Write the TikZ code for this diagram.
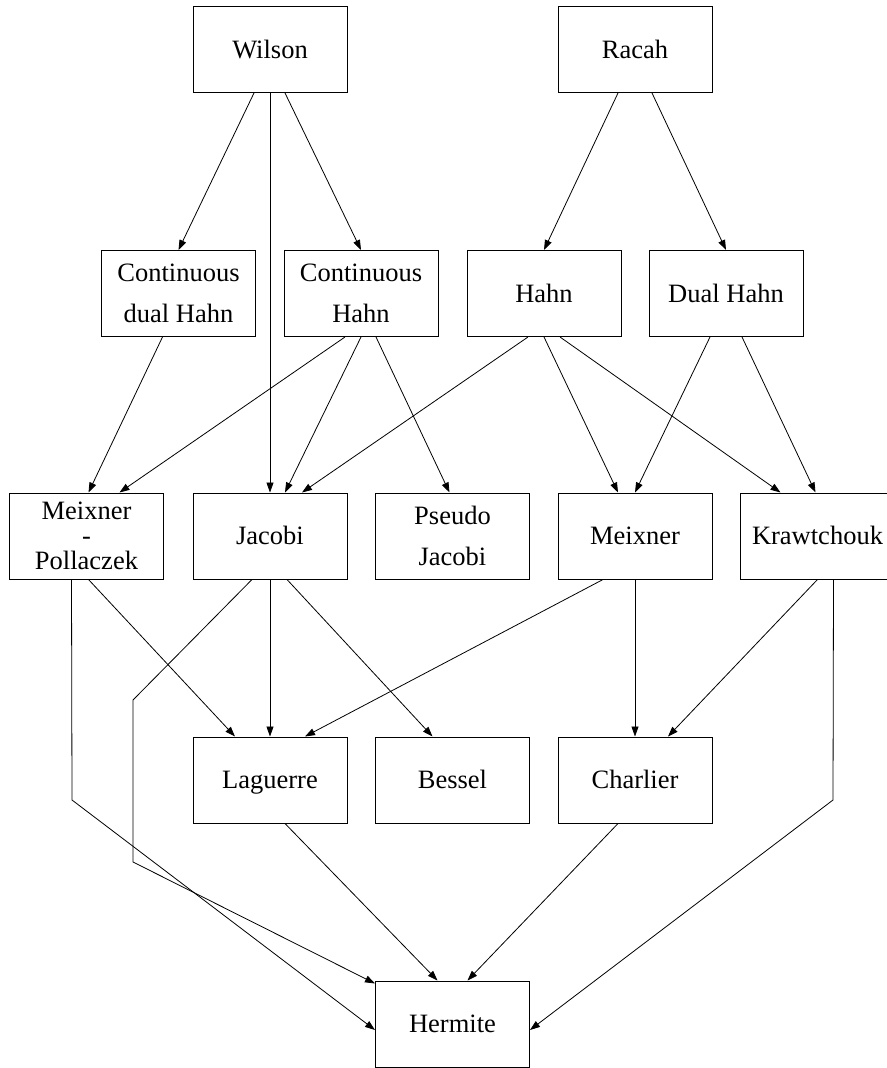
\documentclass[tikz,border=0pt]{standalone}
\usepackage{fontspec}
\setmainfont{Liberation Serif}
\usetikzlibrary{arrows.meta}
\tikzset{
    box/.style = {draw, line width=1pt, minimum width=154pt, minimum height=86pt,
        inner sep=0pt, align=center, font=\fontsize{26.5}{41}\selectfont},
    onebox/.style = {box, text height=17.5pt, text depth=0pt},
    link/.style = {draw, line width=0.8pt, -{Triangle[length=10pt,width=7pt]}}
}

\begin{document}
\begin{tikzpicture}[x=1pt,y=-1pt]
        \useasboundingbox (0,0) rectangle (886,1068);
        \node[onebox] (1) at (270,49.5) {Wilson};
        \node[onebox] (2) at (635,49.5) {Racah};
        \node[box] (3) at (178.5,293.5) {Continuous\\dual Hahn};
        \node[box] (4) at (361,293.5) {Continuous\\Hahn};
        \node[onebox] (5) at (544,293.5) {Hahn};
        \node[onebox] (6) at (726,293.5) {Dual Hahn};
        \node[box, font=\fontsize{26.5}{25}\selectfont] (7) at (86.5,536) {Meixner\\-\\Pollaczek};
        \node[onebox] (8) at (270,536) {Jacobi};
        \node[box] (9) at (452.5,536) {Pseudo\\Jacobi};
        \node[onebox] (10) at (635,536) {Meixner};
        \node[onebox] (11) at (817.5,536) {Krawtchouk};
        \node[onebox] (12) at (270,780) {Laguerre};
        \node[onebox] (13) at (452.5,780) {Bessel};
        \node[onebox] (14) at (635,780) {Charlier};
        \node[onebox] (15) at (452.5,1024) {Hermite};

        % bends of the long edges
        \coordinate (a) at (72,800);
        \coordinate (b) at (133,700);
        \coordinate (c) at (133,862);
        \coordinate (d) at (833,800);

        \path[every edge/.style=link]
            ([xshift=-16pt]1.south) edge (3.north)
            (1.south) edge (8.north)
            ([xshift=15pt]1.south) edge (4.north)
            ([xshift=-17pt]2.south) edge (5.north)
            ([xshift=17pt]2.south) edge (6.north)
            ([xshift=-16pt]3.south) edge ([xshift=2pt]7.north)
            ([xshift=-16pt]4.south) edge ([xshift=33pt]7.north)
            (4.south) edge ([xshift=15pt]8.north)
            ([xshift=15pt]4.south) edge ([xshift=-3pt]9.north)
            ([xshift=-16pt]5.south) edge ([xshift=32pt]8.north)
            (5.south) edge ([xshift=-17pt]10.north)
            ([xshift=16pt]5.south) edge ([xshift=-37pt]11.north)
            ([xshift=-16pt]6.south) edge (10.north)
            ([xshift=16pt]6.south) edge ([xshift=-2pt]11.north)
            ([xshift=2pt]7.south) edge ([xshift=-35pt]12.north)
            (8.south) edge (12.north)
            ([xshift=17pt]8.south) edge ([xshift=-20pt]13.north)
            ([xshift=-32pt]10.south) edge ([xshift=35pt]12.north)
            (10.south) edge (14.north)
            (11.south) edge ([xshift=33pt]14.north)
            ([xshift=15pt]12.south) edge ([xshift=-15pt]15.north)
            ([xshift=-17pt]14.south) edge ([xshift=15pt]15.north)
        ;
        \draw[link] ([xshift=-15pt]7.south) -- (a) -- ([yshift=-6pt]15.west);
        \draw[link] ([xshift=-18pt]8.south) -- (b) -- (c) -- ([yshift=-3pt]15.north west);
        \draw[link] ([xshift=16pt]11.south) -- (d) -- ([yshift=-6pt]15.east);
\end{tikzpicture}
\end{document}
